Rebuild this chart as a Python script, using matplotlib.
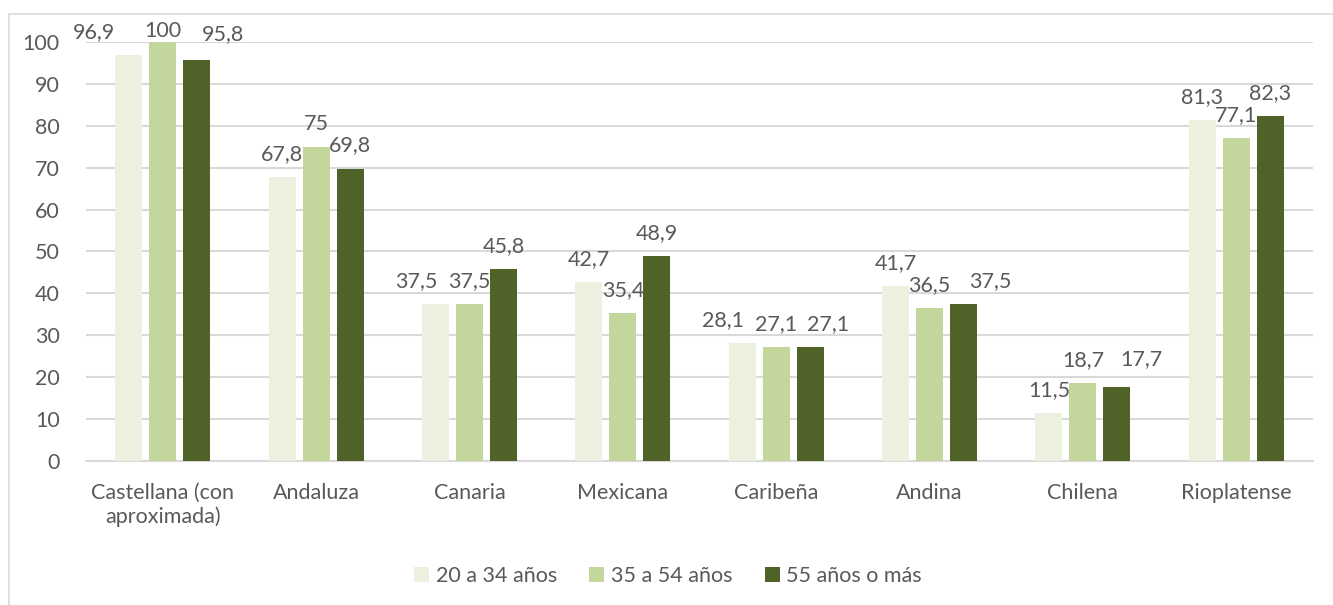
import numpy as np
import matplotlib.pyplot as plt
from matplotlib.patches import Rectangle

plt.rcParams['font.family'] = ['Lato', 'DejaVu Sans']

# Data
categories = ['Castellana (con\naproximada)', 'Andaluza', 'Canaria', 'Mexicana',
              'Caribeña', 'Andina', 'Chilena', 'Rioplatense']
series_names = ['20 a 34 años', '35 a 54 años', '55 años o más']
age_20_34 = [96.9, 67.8, 37.5, 42.7, 28.1, 41.7, 11.5, 81.3]
age_35_54 = [100, 75, 37.5, 35.4, 27.1, 36.5, 18.7, 77.1]
age_55_up = [95.8, 69.8, 45.8, 48.9, 27.1, 37.5, 17.7, 82.3]
yticks = list(range(0, 101, 10))

colors = ['#EBF1DE', '#C3D69B', '#4F6228']
text_color = '#595959'
grid_color = '#D9D9D9'
fs = 15.5

# label nudges (pixels) where labels would collide
label_shift = {
    (0, 0): (-35, 0), (0, 1): (0, -12), (0, 2): (26, 3),
    (2, 0): (-19, 0), (4, 0): (-19, 0), (4, 2): (18, 0),
    (5, 2): (27, 0), (6, 2): (24, 5),
}

fig = plt.figure(figsize=(13.33, 6.05), dpi=100)
ax = fig.add_axes([86 / 1333, 1 - 461 / 605, (1313 - 86) / 1333, 419 / 605])

x = np.arange(len(categories))
width = 0.176
offsets = [-0.222, 0.0, 0.222]
all_series = [age_20_34, age_35_54, age_55_up]

for s, (vals, name, col) in enumerate(zip(all_series, series_names, colors)):
    bars = ax.bar(x + offsets[s], vals, width, color=col, label=name, zorder=3)
    for i, (b, v) in enumerate(zip(bars, vals)):
        dx, dy = label_shift.get((i, s), (0, 0))
        ax.annotate(f'{v:g}'.replace('.', ','),
                    (b.get_x() + b.get_width() / 2, v),
                    xytext=(dx, 23 + dy), textcoords='offset pixels',
                    ha='center', va='center', fontsize=fs, color=text_color,
                    annotation_clip=False)

ax.set_xlim(-0.5, len(categories) - 0.5)
ax.set_ylim(0, 100)
ax.set_yticks(yticks)
ax.set_xticks(x)
ax.set_xticklabels(categories, linespacing=1.2)
ax.tick_params(axis='both', length=0, labelsize=fs, labelcolor=text_color)
ax.tick_params(axis='y', pad=19)
ax.tick_params(axis='x', pad=16)
ax.yaxis.grid(True, color=grid_color, linewidth=1.5, zorder=0)
for sp in ['top', 'right', 'left']:
    ax.spines[sp].set_visible(False)
ax.spines['bottom'].set_color(grid_color)
ax.spines['bottom'].set_linewidth(1.5)

leg = fig.legend(loc='center', bbox_to_anchor=(668 / 1333, 1 - 576 / 605), ncol=3,
                 frameon=False, fontsize=fs, handlelength=0.7, handleheight=0.7,
                 handletextpad=0.3, columnspacing=1.5)
for t in leg.get_texts():
    t.set_color(text_color)

# chart border
fig.patches.append(Rectangle((9 / 1333, -0.1), 1.2, 1.1 - 14 / 605,
                             transform=fig.transFigure, fill=False,
                             edgecolor=grid_color, linewidth=1.2))

fig.savefig('out.png', dpi=100)
